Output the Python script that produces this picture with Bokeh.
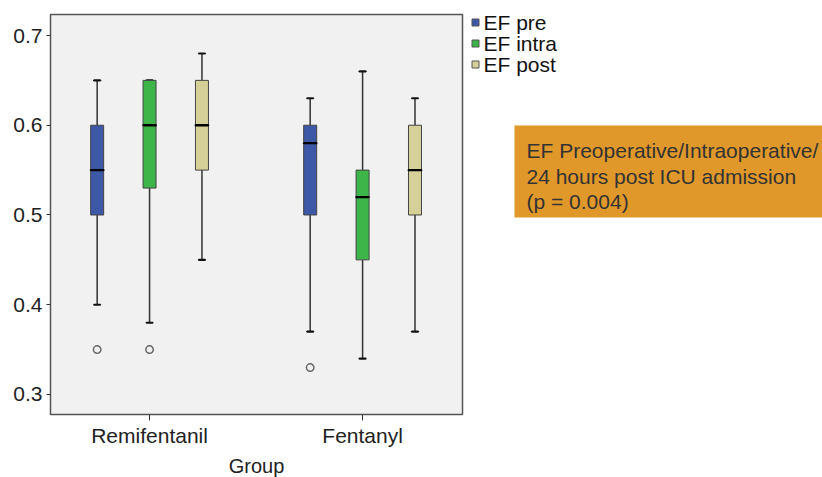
from bokeh.plotting import figure
from bokeh.layouts import row
from bokeh.models import ColumnDataSource, FixedTicker, Range1d
from bokeh.transform import dodge
from bokeh.core.properties import value
from bokeh.embed import file_html
from bokeh.resources import INLINE

groups = ["Remifentanil", "Fentanyl"]
series = ["EF pre", "EF intra", "EF post"]
colors = ["#3E58A8", "#3DB549", "#D5CF98"]
offsets = [-0.246, 0.0, 0.246]

# per series: values for [Remifentanil, Fentanyl]
lower = {"EF pre": [0.40, 0.37], "EF intra": [0.38, 0.34], "EF post": [0.45, 0.37]}
q1 = {"EF pre": [0.50, 0.50], "EF intra": [0.53, 0.45], "EF post": [0.55, 0.50]}
median = {"EF pre": [0.55, 0.58], "EF intra": [0.60, 0.52], "EF post": [0.60, 0.55]}
q3 = {"EF pre": [0.60, 0.60], "EF intra": [0.65, 0.55], "EF post": [0.65, 0.60]}
upper = {"EF pre": [0.65, 0.63], "EF intra": [0.65, 0.66], "EF post": [0.68, 0.63]}
# outliers: (group index, series, value)
out_group = [0, 0, 1]
out_series = ["EF pre", "EF intra", "EF pre"]
out_value = [0.35, 0.35, 0.33]

yticks = [0.3, 0.4, 0.5, 0.6, 0.7]
font = "Liberation Sans"
fs = "21px"

FL, FT, FW, FH = 50, 14, 412, 400

p = figure(frame_width=FW, frame_height=FH, output_backend="svg", toolbar_location=None, title=None,
           x_range=Range1d(-0.465, 1.469), y_range=Range1d(0.2777, 0.7234),
           min_border_left=FL, min_border_top=FT, min_border_right=2, min_border_bottom=0)
p.background_fill_color = "#F1F1F1"
p.border_fill_color = "white"
p.outline_line_color = "#555555"
p.outline_line_width = 1.5
p.grid.visible = False

gx = list(range(len(groups)))
for s, c, off in zip(series, colors, offsets):
    src = ColumnDataSource(dict(gx=gx, lo=lower[s], q1=q1[s], med=median[s], q3=q3[s], hi=upper[s]))
    xd = dodge("gx", off, range=p.x_range)
    p.segment(x0=xd, y0="lo", x1=xd, y1="q1", source=src, line_color="#333333", line_width=1.5)
    p.segment(x0=xd, y0="q3", x1=xd, y1="hi", source=src, line_color="#333333", line_width=1.5)
    p.rect(x=xd, y="lo", width=0.03, height=0.0001, source=src, line_color="#111111", line_width=2, fill_color=None)
    p.rect(x=xd, y="hi", width=0.03, height=0.0001, source=src, line_color="#111111", line_width=2, fill_color=None)
    p.vbar(x=xd, width=0.061, bottom="q1", top="q3", source=src, fill_color=c, line_color="#444444", line_width=1)
    p.rect(x=xd, y="med", width=0.061, height=0.0001, source=src, line_color="#000000", line_width=2.2, fill_color=None)

ox = [g + offsets[series.index(s)] for g, s in zip(out_group, out_series)]
p.scatter(x=ox, y=out_value, marker="circle", size=7.5, fill_color=None, line_color="#666666", line_width=1.5)

p.yaxis.ticker = FixedTicker(ticks=yticks)
p.yaxis.major_label_overrides = {t: f"{t:.1f}" for t in yticks}
p.yaxis.minor_tick_line_color = None
p.yaxis.major_tick_in = 0
p.yaxis.major_tick_out = 4
p.yaxis.axis_line_color = "#555555"
p.yaxis.major_label_standoff = 4

p.xaxis.ticker = FixedTicker(ticks=gx)
p.xaxis.major_label_overrides = {i: g for i, g in enumerate(groups)}
p.xaxis.minor_tick_line_color = None
p.xaxis.major_tick_in = 0
p.xaxis.major_tick_out = 6
p.xaxis.axis_line_color = "#555555"
p.xaxis.major_label_standoff = 3
p.xaxis.axis_label = "Group"
p.xaxis.axis_label_standoff = 5
p.xaxis.axis_label_text_font_style = "normal"

for ax in [p.xaxis, p.yaxis]:
    ax.major_label_text_font = font
    ax.major_label_text_font_size = fs
    ax.major_label_text_color = "#222222"
    ax.axis_label_text_font = font
    ax.axis_label_text_font_size = "20px"
    ax.axis_label_text_color = "#222222"
    ax.major_tick_line_color = "#333333"

# right panel: legend and annotation, in page pixel coordinates
# (its frame is aligned vertically with the main plot's frame)
X0 = FL + FW + 2
W2 = 822 - X0
q = figure(frame_width=W2, frame_height=FH, output_backend="svg", toolbar_location=None, title=None,
           x_range=Range1d(X0, 822), y_range=Range1d(FT + FH, FT),
           min_border=0, min_border_left=0, min_border_right=0, min_border_top=FT, min_border_bottom=0)
q.axis.visible = False
q.grid.visible = False
q.outline_line_color = None
q.background_fill_color = "white"

leg_y = [22, 43, 64]
q.rect(x=[475] * 3, y=leg_y, width=7, height=7, fill_color=colors, line_color="#555555", line_width=1)
q.text(x=[483] * 3, y=leg_y, text=series, text_font=value(font), text_font_size=fs,
       text_baseline="middle", text_color="#111111")

note_lines = ["EF Preoperative/Intraoperative/", "24 hours post ICU admission", "(p = 0.004)"]
q.quad(left=[514], right=[830], top=[125], bottom=[217], fill_color="#E0982A", line_color=None)
q.text(x=[526] * 3, y=[150, 176, 201], text=note_lines, text_font=value(font), text_font_size=fs,
       text_baseline="alphabetic", text_color="#333333")

layout = row(p, q, spacing=0)
open("out.html", "w").write(file_html(layout, INLINE))
